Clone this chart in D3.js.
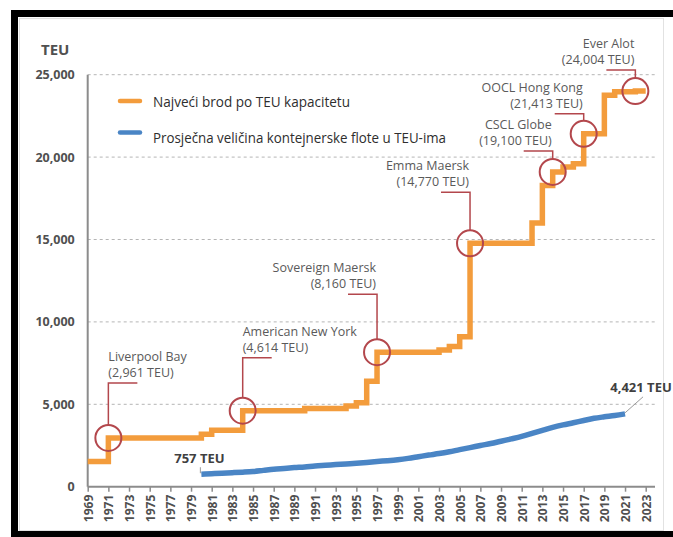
<!DOCTYPE html>
<html>
<head>
<meta charset="utf-8">
<script src="https://cdn.jsdelivr.net/npm/d3@7"></script>
<style>
  html, body { margin: 0; padding: 0; background: #fff; }
  svg { display: block; }
  text { font-family: "Open Sans", "Noto Sans", sans-serif; }
</style>
</head>
<body>
<svg id="chart" width="673" height="537"></svg>
<script>
// ---------------- DATA ----------------
const seriesNames = ["Najveći brod po TEU kapacitetu", "Prosječna veličina kontejnerske flote u TEU-ima"];

// Largest ship (step series): year the record starts, TEU
const largestYears  = [1969, 1971, 1980, 1981, 1984, 1990, 1994, 1995, 1996, 1997, 2003, 2004, 2005, 2006, 2012, 2013, 2014, 2015, 2016, 2017, 2019, 2020, 2022, 2023];
const largestValues = [1530, 2961, 3180, 3430, 4614, 4740, 4900, 5100, 6400, 8160, 8300, 8500, 9100, 14770, 16000, 18270, 19100, 19400, 19600, 21413, 23756, 23964, 24004, 24004];

// Average fleet size
const avgYears  = [1980, 1981, 1982, 1983, 1984, 1985, 1986, 1987, 1988, 1989, 1990, 1991, 1992, 1993, 1994, 1995, 1996, 1997, 1998, 1999, 2000, 2001, 2002, 2003, 2004, 2005, 2006, 2007, 2008, 2009, 2010, 2011, 2012, 2013, 2014, 2015, 2016, 2017, 2018, 2019, 2020, 2021];
const avgValues = [757, 790, 820, 850, 880, 920, 990, 1060, 1110, 1160, 1200, 1260, 1300, 1340, 1380, 1420, 1470, 1530, 1580, 1640, 1720, 1820, 1920, 2010, 2120, 2250, 2370, 2500, 2620, 2760, 2900, 3050, 3230, 3420, 3600, 3750, 3880, 4020, 4150, 4240, 4320, 4421];

// Annotated record ships
const shipNames  = ["Liverpool Bay", "American New York", "Sovereign Maersk", "Emma Maersk", "CSCL Globe", "OOCL Hong Kong", "Ever Alot"];
const shipLabels = ["(2,961 TEU)", "(4,614 TEU)", "(8,160 TEU)", "(14,770 TEU)", "(19,100 TEU)", "(21,413 TEU)", "(24,004 TEU)"];
const shipYears  = [1971, 1984, 1997, 2006, 2014, 2017, 2022];
const shipValues = [2961, 4614, 8160, 14770, 19100, 21413, 24004];

const yTicks = [0, 5000, 10000, 15000, 20000, 25000];
const xTicks = d3.range(1969, 2024, 2);
const endLabels = ["757 TEU", "4,421 TEU"];
const yTitle = "TEU";

// ---------------- LAYOUT ----------------
const svg = d3.select("#chart");
const x = d3.scaleLinear().domain([1969, 2023]).range([87.7, 645.7]);
const y = d3.scaleLinear().domain([0, 25000]).range([486.7, 74.7]);
const xEnd = 656;

const orange = "#f39c3c";
const blue = "#4a85c5";
const red = "#b3474c";
const axisGray = "#8c8c8c";
const textGray = "#505050";

// frame
svg.append("rect").attr("x", 19.5).attr("y", 18.5).attr("width", 644).attr("height", 512).attr("fill", "none").attr("stroke", "#e2e2e2");
svg.append("rect").attr("x", 11).attr("y", 10).attr("width", 662).attr("height", 7).attr("fill", "#000");
svg.append("rect").attr("x", 11).attr("y", 10).attr("width", 7).attr("height", 527).attr("fill", "#000");
svg.append("rect").attr("x", 11).attr("y", 531).attr("width", 662).attr("height", 6).attr("fill", "#000");

// gridlines
svg.append("g").selectAll("line").data(yTicks.filter(d => d > 0)).join("line")
  .attr("x1", x(1969)).attr("x2", xEnd)
  .attr("y1", d => y(d)).attr("y2", d => y(d))
  .attr("stroke", "#b5b5b5").attr("stroke-width", 1).attr("stroke-dasharray", "3,3");

// y axis
const yAxis = d3.axisLeft(y).tickValues(yTicks).tickSize(0).tickPadding(13).tickFormat(d3.format(","));
const gy = svg.append("g").attr("transform", `translate(${x(1969)},0)`).call(yAxis);
gy.select(".domain").remove();
gy.selectAll("text").attr("fill", textGray).attr("font-size", "12.5px").attr("font-weight", "700");
svg.append("line").attr("x1", x(1969)).attr("x2", x(1969)).attr("y1", y(25000)).attr("y2", y(0))
  .attr("stroke", axisGray).attr("stroke-width", 2);
svg.append("text").attr("x", 41).attr("y", 55).attr("font-size", "15px").attr("font-weight", "700")
  .attr("fill", textGray).text(yTitle);

// x axis
const xAxis = d3.axisBottom(x).tickValues(xTicks).tickSize(5).tickPadding(3).tickFormat(d3.format("d"));
const gx = svg.append("g").attr("transform", `translate(0,${y(0)})`).call(xAxis);
gx.select(".domain").remove();
gx.selectAll(".tick line").attr("stroke", axisGray).attr("stroke-width", 1.5);
gx.selectAll("text")
  .attr("fill", textGray).attr("font-size", "12px").attr("font-weight", "700")
  .attr("transform", "rotate(-90)").attr("text-anchor", "end")
  .attr("x", -8).attr("y", 0).attr("dy", "0.36em");
svg.append("line").attr("x1", x(1969)).attr("x2", xEnd - 1).attr("y1", y(0)).attr("y2", y(0))
  .attr("stroke", axisGray).attr("stroke-width", 2);

// orange step line
const largest = largestYears.map((d, i) => [d, largestValues[i]]);
const stepLine = d3.line().x(d => x(d[0])).y(d => y(d[1])).curve(d3.curveStepAfter);
svg.append("path").datum(largest).attr("d", stepLine)
  .attr("fill", "none").attr("stroke", orange).attr("stroke-width", 5.5).attr("stroke-linejoin", "miter");

// blue line
const avg = avgYears.map((d, i) => [d, avgValues[i]]);
const smoothLine = d3.line().x(d => x(d[0])).y(d => y(d[1])).curve(d3.curveMonotoneX);
svg.append("path").datum(avg).attr("d", smoothLine)
  .attr("fill", "none").attr("stroke", blue).attr("stroke-width", 5.5).attr("stroke-linecap", "butt");

// end labels of blue line
const first = avg[0], last = avg[avg.length - 1];
svg.append("line").attr("x1", x(first[0]) - 1).attr("x2", x(first[0]) - 1)
  .attr("y1", y(first[1]) - 7).attr("y2", y(first[1]) - 1).attr("stroke", "#9a9a9a").attr("stroke-width", 1);
svg.append("text").attr("x", x(first[0]) - 2).attr("y", y(first[1]) - 11)
  .attr("text-anchor", "middle").attr("font-size", "13px").attr("font-weight", "700")
  .attr("fill", "#404040").text(endLabels[0]);
svg.append("line").attr("x1", x(last[0])).attr("x2", x(last[0]) + 18)
  .attr("y1", y(last[1]) - 1).attr("y2", y(last[1]) - 17).attr("stroke", "#9a9a9a").attr("stroke-width", 1);
svg.append("text").attr("x", x(last[0]) + 16).attr("y", y(last[1]) - 21.5)
  .attr("text-anchor", "middle").attr("font-size", "13px").attr("font-weight", "700")
  .attr("fill", "#404040").text(endLabels[1]);

// annotations: side (text left/right of the leader) and leader height
const annotSide = ["right", "right", "left", "left", "left", "left", "left"];
const annotRise = [55, 53, 58, 51, 21, 20, 21];
const r = 13;
const ann = svg.append("g");
shipNames.forEach((name, i) => {
  const cx = x(shipYears[i]), cy = y(shipValues[i]);
  const ly = cy - annotRise[i];
  const tail = annotSide[i] === "right" ? cx + 29 : cx - 29;
  ann.append("path")
    .attr("d", `M${tail},${ly}H${cx}V${cy - r}`)
    .attr("fill", "none").attr("stroke", red).attr("stroke-width", 1.5);
  ann.append("circle").attr("cx", cx).attr("cy", cy).attr("r", r)
    .attr("fill", "none").attr("stroke", red).attr("stroke-width", 2);
  const anchor = annotSide[i] === "right" ? "start" : "end";
  const tx = annotSide[i] === "right" ? cx : cx - 1;
  ann.append("text").attr("x", tx).attr("y", ly - 22).attr("text-anchor", anchor)
    .attr("font-size", "12.5px").attr("fill", "#5a5a5a").text(name);
  ann.append("text").attr("x", tx).attr("y", ly - 6).attr("text-anchor", anchor)
    .attr("font-size", "12.5px").attr("fill", "#5a5a5a").text(shipLabels[i]);
});

// legend
const legColors = [orange, blue];
const legSwatchY = [101, 132.5];
const legTextY = [106.5, 143];
const legWidths = [197, 293];
seriesNames.forEach((n, i) => {
  svg.append("line").attr("x1", 120).attr("x2", 140).attr("y1", legSwatchY[i]).attr("y2", legSwatchY[i])
    .attr("stroke", legColors[i]).attr("stroke-width", 4.5).attr("stroke-linecap", "round");
  svg.append("text").attr("x", 153).attr("y", legTextY[i]).attr("font-size", "15px")
    .attr("fill", "#2e2e2e").attr("textLength", legWidths[i]).attr("lengthAdjust", "spacingAndGlyphs").text(n);
});
</script>
</body>
</html>
